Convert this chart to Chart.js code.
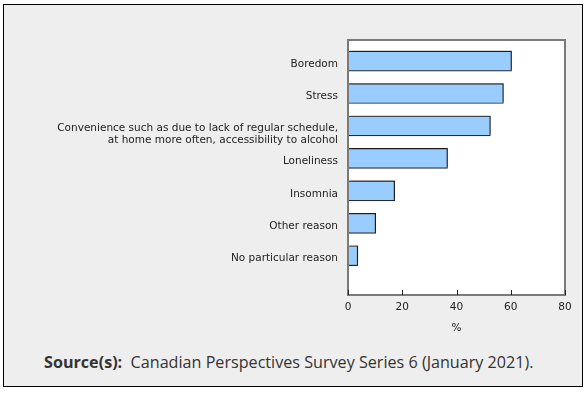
<!DOCTYPE html>
<html>
<head>
<meta charset="utf-8">
<script src="https://cdn.jsdelivr.net/npm/chart.js@4.4.1/dist/chart.umd.min.js"></script>
<style>
  html, body { margin: 0; padding: 0; background: #ffffff; }
  #frame {
    position: absolute; left: 3px; top: 4px; width: 578px; height: 381px;
    border: 1px solid #000; background: #eeeeee; overflow: hidden;
  }
  #chartBox { position: absolute; left: -4px; top: -5px; width: 586px; height: 340px; }
  #source {
    position: absolute; left: 40px; top: 345px; white-space: nowrap;
    font-family: "Open Sans", sans-serif; font-size: 16.15px; color: #333;
    line-height: 24px;
  }
  #source b { font-weight: 700; }
</style>
</head>
<body>
<div id="frame">
  <div id="chartBox"><canvas id="c" width="586" height="340"></canvas></div>
  <div id="source"><b>Source(s):</b>&nbsp;&nbsp;Canadian Perspectives Survey Series 6 (January 2021).</div>
</div>
<script>
const categories = [
  ["Boredom"],
  ["Stress"],
  ["Convenience such as due to lack of regular schedule,", "at home more often, accessibility to alcohol"],
  ["Loneliness"],
  ["Insomnia"],
  ["Other reason"],
  ["No particular reason"]
];
const values = [60.3, 57.3, 52.5, 36.7, 17.2, 10.2, 3.6];
const xTicks = [0, 20, 40, 60, 80];
const xTitle = "%";

const frameAndTicks = {
  id: 'frameAndTicks',
  beforeDatasetsDraw(chart) {
    const a = chart.chartArea, ctx = chart.ctx;
    ctx.save();
    ctx.fillStyle = '#ffffff';
    ctx.fillRect(a.left, a.top, a.right - a.left, a.bottom - a.top);
    ctx.restore();
  },
  afterDatasetsDraw(chart) {
    const a = chart.chartArea, ctx = chart.ctx, xs = chart.scales.x;
    ctx.save();
    ctx.strokeStyle = '#7a7a7a';
    ctx.lineWidth = 2;
    ctx.strokeRect(a.left, a.top, a.right - a.left, a.bottom - a.top);
    ctx.strokeStyle = '#222';
    ctx.lineWidth = 1;
    xTicks.forEach(v => {
      const px = Math.round(xs.getPixelForValue(v)) + 0.5;
      ctx.beginPath();
      ctx.moveTo(px, a.bottom);
      ctx.lineTo(px, a.bottom - 5);
      ctx.stroke();
    });
    ctx.restore();
  }
};

const shadowPlugin = {
  id: 'barShadow',
  beforeDatasetDraw(chart) {
    const ctx = chart.ctx;
    ctx.save();
    ctx.shadowColor = 'rgba(0,0,0,0.3)';
    ctx.shadowOffsetX = 2;
    ctx.shadowOffsetY = -2;
    ctx.shadowBlur = 0;
  },
  afterDatasetDraw(chart) { chart.ctx.restore(); }
};

new Chart(document.getElementById('c'), {
  type: 'bar',
  data: {
    datasets: [{
      data: values.map((v, i) => ({ x: v, y: i })),
      backgroundColor: '#99ccff',
      borderColor: '#2a2a2a',
      borderWidth: 1.2,
      borderSkipped: false,
      barThickness: 20
    }]
  },
  options: {
    indexAxis: 'y',
    responsive: false,
    animation: false,
    layout: { padding: { top: 40, right: 21, left: 0, bottom: 5 } },
    plugins: { legend: { display: false }, tooltip: { enabled: false } },
    scales: {
      x: {
        type: 'linear', min: 0, max: 80,
        afterBuildTicks: s => { s.ticks = xTicks.map(v => ({ value: v })); },
        afterFit: s => { s.height = 40; },
        grid: { display: false, drawTicks: false },
        border: { display: false },
        ticks: { color: '#222', padding: 6, font: { family: 'DejaVu Sans', size: 10.5 } },
        title: { display: true, text: xTitle, color: '#222', padding: { top: 2, bottom: 0 },
                 font: { family: 'DejaVu Sans', size: 10.5 } }
      },
      y: {
        type: 'linear', reverse: true, min: -0.65, max: 7.21,
        offset: false, bounds: 'data',
        afterBuildTicks: s => { s.ticks = categories.map((c, i) => ({ value: i + (c.length > 1 ? 0.16 : 0) })); },
        afterFit: s => { s.width = 348; },
        grid: { display: false, drawTicks: false, offset: false },
        border: { display: false },
        ticks: {
          autoSkip: false, color: '#222', padding: 10, labelOffset: 3,
          font: { family: 'DejaVu Sans', size: 10.5, lineHeight: 1.15 },
          callback: (v, i) => categories[i]
        }
      }
    }
  },
  plugins: [frameAndTicks, shadowPlugin]
});
</script>
</body>
</html>
